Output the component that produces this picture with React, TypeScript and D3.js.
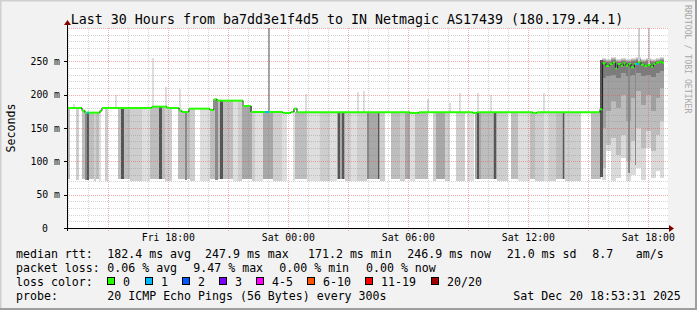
import React from 'react';
import * as d3 from 'd3';

// ---------------- DATA ----------------
const titleText = 'Last 30 Hours from ba7dd3e1f4d5 to IN Netmagic AS17439 (180.179.44.1)';
const yAxisTitle = 'Seconds';
const watermark = 'RRDTOOL / TOBI OETIKER';

const yTicks = [0, 50, 100, 150, 200, 250];
const yTickLabels = ['0', '50 m', '100 m', '150 m', '200 m', '250 m'];
const xTickLabels = ['Fri 18:00', 'Sat 00:00', 'Sat 06:00', 'Sat 12:00', 'Sat 18:00'];

// median rtt (ms), step starts in hours since graph start
const medianSteps: [number, number][] = [
  [0, 180], [0.75, 176], [0.9, 173], [1.65, 176], [1.75, 180], [4.25, 182], [5.0, 180],
  [5.6, 176], [5.75, 174], [6.1, 179], [7.15, 177], [7.35, 193], [7.5, 191], [8.8, 183],
  [9.2, 174], [10.8, 172.5], [11.2, 174], [11.35, 179], [11.5, 173.5], [17.15, 172.5],
  [17.6, 173.5], [20.3, 172.5], [20.5, 173.5], [23.3, 172.5], [23.5, 173.5], [26.65, 178],
  [26.78, 247], [26.95, 243], [27.12, 246], [27.28, 248], [27.42, 239.5], [27.53, 246],
  [27.7, 243.5], [27.82, 247], [27.95, 243.5], [28.08, 246], [28.2, 241], [28.37, 246],
  [28.53, 248.5], [28.7, 245], [28.87, 243], [29.03, 244.5], [29.2, 242], [29.32, 246],
  [29.45, 248], [29.62, 249], [29.75, 248],
];
const medianEnd = 29.85;

// steps with packet loss: [startHour, endHour, lost pings]
const lossMarks: [number, number, number][] = [
  [1.0, 1.1, 1], [9.9, 10.1, 1], [28.45, 28.6, 1],
];

// smoke under the median: [startHour, endHour, shade 1..6, lowest ping ms]
const smokeRuns: [number, number, number, number][] = [
  [0, 0.15, 3, 74], [0.45, 0.6, 2, 72], [0.75, 0.9, 3, 74], [0.9, 1.0, 5, 72], [1.0, 1.1, 6, 72],
  [1.1, 1.35, 3, 74], [1.35, 1.45, 2, 70], [1.45, 1.6, 3, 74], [1.6, 1.7, 1, 70], [1.9, 2.05, 2, 70],
  [2.55, 2.7, 3, 74], [2.7, 2.85, 6, 74], [2.85, 3.15, 3, 74], [3.15, 3.75, 2, 70], [3.75, 4.15, 1, 70],
  [4.15, 4.6, 3, 74], [4.6, 4.75, 6, 74], [4.75, 4.9, 3, 74], [4.9, 5.25, 2, 70], [5.55, 5.9, 3, 74],
  [5.9, 6.0, 5, 72], [6.0, 6.15, 3, 74], [6.15, 6.4, 2, 70], [6.65, 7.15, 1, 70], [7.15, 7.4, 3, 74],
  [7.4, 7.55, 5, 72], [7.55, 7.65, 3, 74], [7.65, 7.8, 6, 74], [7.8, 8.3, 3, 74], [8.3, 8.55, 1, 70],
  [8.55, 8.75, 2, 70], [8.75, 9.25, 4, 74], [9.25, 9.4, 2, 70], [9.4, 9.8, 1, 70], [9.8, 10.3, 4, 74],
  [10.3, 10.75, 2, 70], [10.75, 11.0, 1, 70], [11.3, 11.4, 1, 70], [11.4, 12.0, 3, 74], [12.0, 12.65, 1, 70],
  [12.65, 13.15, 2, 70], [13.15, 13.5, 1, 70], [13.5, 13.9, 4, 74], [13.55, 13.65, 6, 74], [13.75, 13.85, 6, 74],
  [13.9, 14.2, 2, 70], [14.2, 14.5, 1, 70], [14.5, 15.0, 2, 70], [15.0, 15.5, 4, 74], [15.0, 15.1, 5, 74],
  [15.5, 15.65, 4, 74], [15.55, 15.6, 6, 74], [15.65, 15.9, 2, 70], [16.2, 16.65, 3, 74], [16.65, 16.9, 2, 70],
  [16.9, 17.15, 4, 74], [17.15, 17.4, 1, 70], [17.4, 18.05, 3, 74], [18.3, 18.45, 2, 70], [18.45, 18.9, 4, 74],
  [18.9, 19.15, 2, 70], [19.45, 19.9, 2, 70], [20.0, 20.35, 1, 70], [20.4, 20.7, 4, 74], [20.48, 20.6, 6, 74],
  [20.7, 21.3, 3, 74], [21.3, 21.5, 4, 74], [21.35, 21.45, 6, 74], [21.5, 22.05, 2, 70], [22.2, 22.55, 3, 74],
  [22.55, 23.15, 1, 70], [23.15, 23.4, 3, 74], [23.4, 23.85, 2, 70], [23.85, 24.1, 1, 70], [24.1, 24.45, 2, 70],
  [24.45, 24.75, 3, 74], [24.75, 24.9, 4, 74], [24.8, 24.87, 6, 74], [24.9, 25.7, 2, 70], [26.2, 26.7, 3, 74],
];

// high-latency period: [startHour, endHour, top ms, band lows (lightest -> darkest)]
const highColumns: [number, number, number, number, number, number, number][] = [
  [26.75, 26.95, 255, 72, 90, 150, 225], [26.95, 27.2, 254, 115, 125, 175, 228],
  [27.2, 27.45, 256, 70, 135, 190, 230], [27.45, 27.7, 253, 75, 110, 180, 225],
  [27.7, 27.95, 255, 105, 140, 200, 232], [27.95, 28.2, 254, 70, 100, 160, 228],
  [28.2, 28.45, 255, 80, 130, 195, 230], [28.45, 28.7, 256, 90, 150, 205, 233],
  [28.7, 28.95, 254, 72, 120, 185, 228], [28.95, 29.2, 255, 120, 145, 200, 230],
  [29.2, 29.45, 253, 75, 115, 175, 226], [29.45, 29.65, 255, 85, 140, 195, 232],
  [29.65, 29.85, 256, 75, 160, 210, 235],
];
// dark streaks: [startHour, endHour, low ms, top ms, shade]
const darkStreaks: [number, number, number, number, number][] = [
  [26.65, 26.8, 76, 252, 6], [28.05, 28.17, 82, 240, 5], [28.4, 28.45, 95, 238, 5],
];
// single outlier pings above the median: [hour, ms, shade]
const spikes: [number, number, number][] = [
  [0.3, 186, 1], [2.4, 199, 1], [4.25, 255, 1], [4.9, 211, 1], [5.6, 208, 1], [10.05, 300, 4],
  [11.9, 201, 1], [14.5, 204, 1], [14.8, 205, 1], [18.0, 193, 1], [19.1, 187, 1], [19.6, 202, 1],
  [20.5, 202, 1], [21.15, 200, 1], [23.8, 202, 1], [28.55, 300, 2], [29.05, 300, 2],
];

const rttStats = ['182.4 ms avg', '247.9 ms max', '171.2 ms min', '246.9 ms now', '21.0 ms sd', '8.7', 'am/s'];
const lossStats = ['0.06 % avg', '9.47 % max', '0.00 % min', '0.00 % now'];
const lossColorLabels = ['0', '1', '2', '3', '4-5', '6-10', '11-19', '20/20'];
const lossColorValues = ['#26ff00', '#00b8ff', '#0059ff', '#7e00ff', '#ff00ff', '#ff5500', '#ff0000', '#a10000'];
const probeText = '20 ICMP Echo Pings (56 Bytes) every 300s';
const dateText = 'Sat Dec 20 18:53:31 2025';

// ---------------- LAYOUT ----------------
const W = 697, H = 310;
const START = new Date(2025, 11, 19, 12, 56, 0);
const END = new Date(START.getTime() + 30 * 36e5);
const PL = 67, PR = 667, PT = 28, PB = 228;
const MONO = "'DejaVu Sans Mono', monospace";
const shadeColors = ['#ffffff', '#dedede', '#cecece', '#bebebe', '#a8a8a8', '#8a8a8a', '#555555'];
const highBandColors = ['#dadada', '#bdbdbd', '#a0a0a0', '#7c7c7c'];

const x = d3.scaleTime().domain([START, END]).range([PL, PR]);
const hx = (h: number) => x(new Date(START.getTime() + h * 36e5));
const y = d3.scaleLinear().domain([0, 300]).range([PB, PT]);

const medianAt = (h: number) => {
  let v = medianSteps[0][1];
  for (const [t, m] of medianSteps) if (t <= h) v = m;
  return v;
};

export default function App() {
  const hours = d3.timeHour.every(1)!.range(START, new Date(END.getTime() + 1));
  const labelTicks = d3.timeHour.every(6)!.range(START, new Date(END.getTime() + 1));
  const minorY = d3.range(0, 301, 10);
  const rx = (v: number) => Math.round(v) + 0.5;

  const rttX = [107.3, 205, 308, 407.3, 506.7, 592.3, 635.7];
  const lossX = [107.3, 193.3, 279.3, 366];
  const boxX = [107, 145, 182, 219, 256, 307, 365, 431];

  const medSegs = medianSteps.map((s, i) => {
    const next = i + 1 < medianSteps.length ? medianSteps[i + 1] : [medianEnd, s[1]];
    return { x0: hx(s[0]), x1: hx(next[0]), yv: y(s[1]), yn: y(next[1]) };
  });

  return (
    <svg width={W} height={H} style={{ position: 'absolute', left: 0, top: 0, display: 'block' }}
      fontFamily={MONO}>
      <rect x={0} y={0} width={W} height={H} fill="#f2f2f2" />
      <path d={`M0,${H} V0 H${W}`} fill="none" stroke="#cfcfcf" strokeWidth={3} />
      <path d={`M${W},0 V${H} H0`} fill="none" stroke="#9e9e9e" strokeWidth={4} />
      <rect x={PL} y={PT} width={PR - PL + 1} height={PB - PT} fill="#ffffff" />

      {/* smoke */}
      {smokeRuns.map(([h0, h1, s, low], i) => {
        const top = medianAt((h0 + h1) / 2);
        return <rect key={'s' + i} x={hx(h0)} width={hx(h1) - hx(h0)} y={y(top)} height={y(low) - y(top)}
          fill={shadeColors[s]} shapeRendering="crispEdges" />;
      })}
      {highColumns.map(([h0, h1, top, ...lows], i) => (
        <g key={'h' + i}>
          {lows.map((lo, j) => (
            <rect key={j} x={hx(h0)} width={hx(h1) - hx(h0)} y={y(top - j * 1.5)} height={y(lo) - y(top - j * 1.5)}
              fill={highBandColors[j]} shapeRendering="crispEdges" />
          ))}
        </g>
      ))}
      {darkStreaks.map(([h0, h1, lo, top, s], i) => (
        <rect key={'d' + i} x={hx(h0)} width={hx(h1) - hx(h0)} y={y(top)} height={y(lo) - y(top)}
          fill={shadeColors[s]} shapeRendering="crispEdges" />
      ))}
      {spikes.map(([h, v, s], i) => {
        const m = medianAt(h);
        return <rect key={'p' + i} x={hx(h)} width={hx(h + 1 / 12) - hx(h)} y={y(v)} height={y(m) - y(v)}
          fill={shadeColors[s]} shapeRendering="crispEdges" />;
      })}

      {/* grid */}
      {minorY.filter(v => v % 50 !== 0).map(v => (
        <line key={'gy' + v} x1={PL} x2={PR + 1} y1={rx(y(v))} y2={rx(y(v))} stroke="rgba(120,120,120,0.32)" strokeDasharray="1,1" />
      ))}
      {hours.filter(t => t.getHours() % 3 !== 0).map(t => (
        <line key={'gx' + +t} y1={PT} y2={PB + 2} x1={rx(x(t))} x2={rx(x(t))} stroke="rgba(120,120,120,0.32)" strokeDasharray="1,1" />
      ))}
      {yTicks.filter(v => v > 0).concat([300]).map(v => (
        <line key={'my' + v} x1={PL} x2={PR + 1} y1={rx(y(v))} y2={rx(y(v))} stroke="rgba(235,70,70,0.45)" strokeDasharray="1,1" />
      ))}
      {hours.filter(t => t.getHours() % 3 === 0).map(t => (
        <line key={'mx' + +t} y1={PT} y2={PB + 3} x1={rx(x(t))} x2={rx(x(t))} stroke="rgba(235,70,70,0.45)" strokeDasharray="1,1" />
      ))}

      {/* median line */}
      {medSegs.map((s, i) => (
        <g key={'m' + i}>
          <line x1={s.x0} x2={s.x1} y1={s.yv} y2={s.yv} stroke="#26ff00" strokeWidth={2} />
          {i + 1 < medSegs.length && Math.abs(s.yn - s.yv) > 0.5 &&
            <line x1={s.x1} x2={s.x1} y1={s.yv} y2={s.yn} stroke="#222" strokeWidth={1} />}
        </g>
      ))}
      {lossMarks.map(([h0, h1, n], i) => (
        <line key={'l' + i} x1={hx(h0)} x2={hx(h1)} y1={y(medianAt((h0 + h1) / 2))} y2={y(medianAt((h0 + h1) / 2))}
          stroke={lossColorValues[n]} strokeWidth={2} />
      ))}

      {/* axes */}
      <line x1={PL - 3} x2={PR + 4} y1={PB + 0.5} y2={PB + 0.5} stroke="#000" />
      <path d={`M${PR + 2},${PB - 3} L${PR + 7},${PB + 0.5} L${PR + 2},${PB + 4} Z`} fill="#7f0000" />
      <line x1={PL + 0.5} x2={PL + 0.5} y1={PB + 3} y2={PT - 5} stroke="#000" />
      <path d={`M${PL - 3},${PT - 3} L${PL + 0.5},${PT - 8} L${PL + 4},${PT - 3} Z`} fill="#7f0000" />
      {yTicks.map((v, i) => (
        <g key={'yt' + v}>
          <line x1={PL - 3} x2={PL} y1={rx(y(v))} y2={rx(y(v))} stroke="#000" />
          <text x={v === 0 ? 48 : 60} y={y(v) + 3.5} fontSize={9.8} textAnchor="end" fill="#000">{yTickLabels[i]}</text>
        </g>
      ))}
      {labelTicks.map((t, i) => (
        <text key={'xt' + i} x={x(t)} y={240.7} fontSize={9.8} textAnchor="middle" fill="#000">{xTickLabels[i]}</text>
      ))}

      {/* titles */}
      <text x={347} y={24} fontSize={13.3} textAnchor="middle" fill="#000">{titleText}</text>
      <text transform={`translate(14.5,${(PT + PB) / 2}) rotate(-90)`} fontSize={11.6} textAnchor="middle" fill="#000">{yAxisTitle}</text>
      <text transform="translate(685,5) rotate(90)" fontSize={8.2} fill="#a8a8a8">{watermark}</text>

      {/* legend */}
      <g fontSize={11.6} fill="#000">
        <text x={16} y={257.5}>median rtt:</text>
        {rttStats.map((s, i) => <text key={'r' + i} x={rttX[i]} y={257.5}>{s}</text>)}
        <text x={16} y={271.8}>packet loss:</text>
        {lossStats.map((s, i) => <text key={'q' + i} x={lossX[i]} y={271.8}>{s}</text>)}
        <text x={16} y={286}>loss color:</text>
        {lossColorLabels.map((s, i) => (
          <g key={'c' + i}>
            <rect x={boxX[i] + 0.5} y={277.5} width={7} height={7} fill={lossColorValues[i]} stroke="#000" />
            <text x={boxX[i] + 16} y={286}>{s}</text>
          </g>
        ))}
        <text x={16} y={300}>probe:</text>
        <text x={107.3} y={300}>{probeText}</text>
        <text x={513.3} y={300}>{dateText}</text>
      </g>
    </svg>
  );
}
